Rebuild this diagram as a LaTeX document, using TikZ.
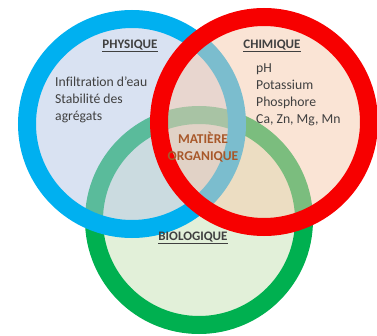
\documentclass[tikz,border=0pt]{standalone}
\usepackage{fontspec}
\setmainfont{Carlito}[Ligatures={NoCommon,TeX}]
\usepackage{xcolor}
\usepackage{tikz}
\usetikzlibrary{positioning, calc}
\definecolor{physring}{HTML}{00B0F0}
\definecolor{physfill}{HTML}{B5C7E7}
\definecolor{chimring}{HTML}{F70000}
\definecolor{chimfill}{HTML}{F7CBAD}
\definecolor{bioring}{HTML}{00B050}
\definecolor{biofill}{HTML}{E2F0D9}
\definecolor{txtgrey}{HTML}{404040}
\definecolor{mobrown}{HTML}{A8582A}

\begin{document}
\begin{tikzpicture}[x=1pt, y=1pt,
    ring/.style={circle, line width=18pt, minimum size=210pt, inner sep=0pt,
                 draw=#1ring, fill=#1fill, draw opacity=1},
    title/.style={font=\fontsize{13}{15}\selectfont\bfseries, text=txtgrey},
    items/.style={font=\fontsize{13.7}{17}\selectfont, text=txtgrey,
                  align=left, anchor=north west, inner sep=0pt}
]
\useasboundingbox (0,0) rectangle (377,335);
\clip (0,0) rectangle (377,335);
\fill[white] (0,0) rectangle (377,335);

% the three circles
\node[ring=bio]                    (bio)  at (199,115) {};
\node[ring=phys, fill opacity=0.5] (phys) at (132,211) {};
\node[ring=chim, fill opacity=0.5] (chim) at (264,213) {};

% titles
\node[title] (tphys) at (130,289) {\underline{PHYSIQUE}};
\node[title] (tchim) at (272,289) {\underline{CHIMIQUE}};
\node[title] (tbio)  at (193,97)  {\underline{BIOLOGIQUE}};

% contents
\node[items] (lphys) at (55,258)
    {Infiltration d'eau\\Stabilité des\\agrégats};
\node[items] (lchim) at (256,271)
    {pH\\Potassium\\Phosphore\\Ca, Zn, Mg, Mn};

\node[font=\fontsize{13.5}{17}\selectfont\bfseries, text=mobrown, align=center]
    (mo) at (203,188) {MATIÈRE\\ORGANIQUE};
\end{tikzpicture}
\end{document}
